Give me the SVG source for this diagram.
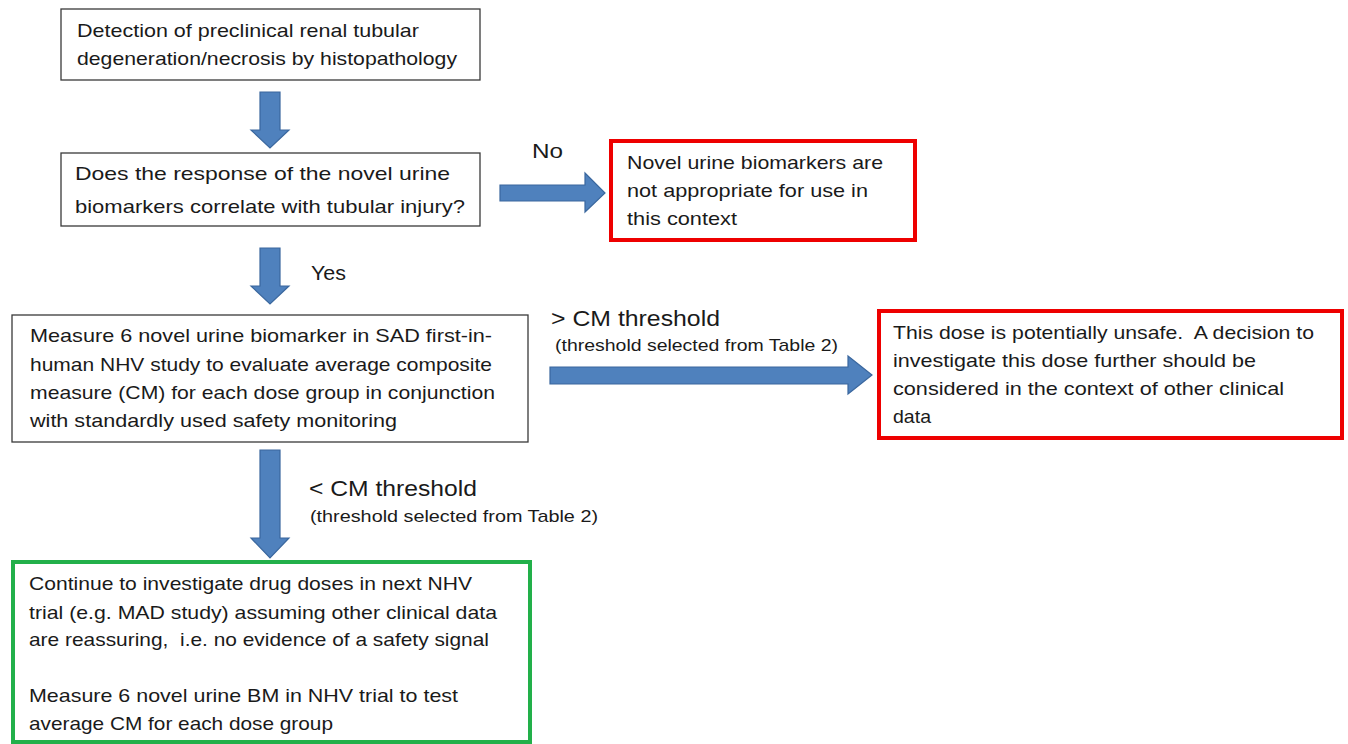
<svg xmlns="http://www.w3.org/2000/svg" width="1348" height="744" viewBox="0 0 1348 744">
<style>
text{white-space:pre}
.t{font-family:"Liberation Sans",Arial,sans-serif;font-size:19px;fill:#1a1a1a}
.lbl{font-family:"Liberation Sans",Arial,sans-serif;font-size:21px;fill:#1a1a1a}
.big{font-family:"Liberation Sans",Arial,sans-serif;font-size:22px;fill:#1a1a1a}
.sm{font-family:"Liberation Sans",Arial,sans-serif;font-size:17px;fill:#1a1a1a}
.box{fill:#fff;stroke:#3a3a3a;stroke-width:1.3}
.red{fill:#fff;stroke:#ee0000;stroke-width:4}
.grn{fill:#fff;stroke:#22b04a;stroke-width:4}
.arr{fill:#4f81bd;stroke:#3a679e;stroke-width:1.2}
</style>
<rect width="1348" height="744" fill="#fff"/>
<g id="connectors">
<polygon class="arr" points="260,92 280,92 280,130 289,130 270,148 251,130 260,130"/>
<polygon class="arr" points="260,248 280,248 280,286 289,286 270,304 251,286 260,286"/>
<polygon class="arr" points="260,450 280,450 280,538 289,538 270,558 251,538 260,538"/>
<polygon class="arr" points="500,185 585,185 585,173 605,193 585,212 585,201 500,201"/>
<polygon class="arr" points="550,367 848,367 848,356 872,375 848,394 848,384 550,384"/>
<text class="lbl" x="532" y="158" textLength="31" lengthAdjust="spacingAndGlyphs">No</text>
<text class="lbl" x="311" y="280" textLength="35" lengthAdjust="spacingAndGlyphs">Yes</text>
<text class="big" x="551" y="326" textLength="169" lengthAdjust="spacingAndGlyphs">&gt; CM threshold</text>
<text class="sm" x="555" y="351" textLength="283" lengthAdjust="spacingAndGlyphs">(threshold selected from Table 2)</text>
<text class="big" x="309" y="496" textLength="168" lengthAdjust="spacingAndGlyphs">&lt; CM threshold</text>
<text class="sm" x="310" y="522" textLength="288" lengthAdjust="spacingAndGlyphs">(threshold selected from Table 2)</text>
</g>
<g id="n1">
<rect class="box" x="61" y="9" width="419" height="71"/>
<text class="t" x="77" y="37" textLength="342" lengthAdjust="spacingAndGlyphs">Detection of preclinical renal tubular</text>
<text class="t" x="77" y="65" textLength="380" lengthAdjust="spacingAndGlyphs">degeneration/necrosis by histopathology</text>
</g>
<g id="n2">
<rect class="box" x="61" y="153" width="419" height="73"/>
<text class="t" x="75" y="180" textLength="375" lengthAdjust="spacingAndGlyphs">Does the response of the novel urine</text>
<text class="t" x="75" y="213" textLength="390" lengthAdjust="spacingAndGlyphs">biomarkers correlate with tubular injury?</text>
</g>
<g id="n3">
<rect class="red" x="611" y="141" width="304" height="99"/>
<text class="t" x="627" y="169" textLength="256" lengthAdjust="spacingAndGlyphs">Novel urine biomarkers are</text>
<text class="t" x="627" y="197" textLength="241" lengthAdjust="spacingAndGlyphs">not appropriate for use in</text>
<text class="t" x="627" y="225" textLength="110" lengthAdjust="spacingAndGlyphs">this context</text>
</g>
<g id="n4">
<rect class="box" x="12" y="315" width="516" height="127"/>
<text class="t" x="30" y="342" textLength="462" lengthAdjust="spacingAndGlyphs">Measure 6 novel urine biomarker in SAD first-in-</text>
<text class="t" x="30" y="371" textLength="462" lengthAdjust="spacingAndGlyphs">human NHV study to evaluate average composite</text>
<text class="t" x="30" y="399" textLength="465" lengthAdjust="spacingAndGlyphs">measure (CM) for each dose group in conjunction</text>
<text class="t" x="30" y="427" textLength="367" lengthAdjust="spacingAndGlyphs">with standardly used safety monitoring</text>
</g>
<g id="n5">
<rect class="red" x="879" y="311" width="463" height="127"/>
<text class="t" x="893" y="339" textLength="421" lengthAdjust="spacingAndGlyphs">This dose is potentially unsafe.  A decision to</text>
<text class="t" x="893" y="367" textLength="363" lengthAdjust="spacingAndGlyphs">investigate this dose further should be</text>
<text class="t" x="893" y="395" textLength="391" lengthAdjust="spacingAndGlyphs">considered in the context of other clinical</text>
<text class="t" x="893" y="423" textLength="38" lengthAdjust="spacingAndGlyphs">data</text>
</g>
<g id="n6">
<rect class="grn" x="13" y="562" width="517" height="180"/>
<text class="t" x="29" y="590" textLength="443" lengthAdjust="spacingAndGlyphs">Continue to investigate drug doses in next NHV</text>
<text class="t" x="29" y="619" textLength="468" lengthAdjust="spacingAndGlyphs">trial (e.g. MAD study) assuming other clinical data</text>
<text class="t" x="29" y="646" textLength="460" lengthAdjust="spacingAndGlyphs">are reassuring,  i.e. no evidence of a safety signal</text>
<text class="t" x="29" y="702" textLength="429" lengthAdjust="spacingAndGlyphs">Measure 6 novel urine BM in NHV trial to test</text>
<text class="t" x="29" y="730" textLength="304" lengthAdjust="spacingAndGlyphs">average CM for each dose group</text>
</g>
</svg>
